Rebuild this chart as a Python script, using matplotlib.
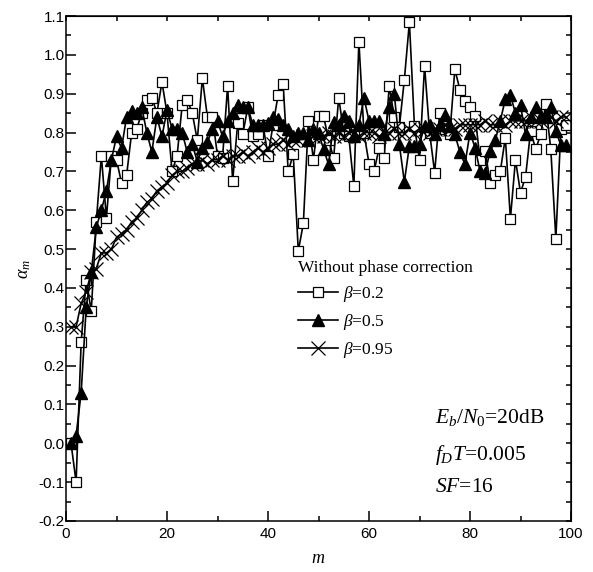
import numpy as np
import matplotlib
matplotlib.use("Agg")
from matplotlib import pyplot as plt
from matplotlib.ticker import MultipleLocator

plt.rcParams["mathtext.fontset"] = "custom"
plt.rcParams["mathtext.rm"] = "Liberation Serif"
plt.rcParams["mathtext.it"] = "Liberation Serif:italic"

# symbol index m
m = np.arange(1, 100)

# beta = 0.2 (open squares)
alpha_b02 = [
    0.00, -0.10, 0.26, 0.42, 0.34, 0.57, 0.74, 0.58, 0.74, 0.73,
    0.67, 0.69, 0.80, 0.81, 0.85, 0.885, 0.89, 0.85, 0.93, 0.85,
    0.70, 0.74, 0.87, 0.885, 0.85, 0.78, 0.94, 0.84, 0.84, 0.74,
    0.735, 0.92, 0.675, 0.825, 0.795, 0.865, 0.79, 0.795, 0.82, 0.74,
    0.82, 0.896, 0.925, 0.70, 0.744, 0.495, 0.566, 0.83, 0.73, 0.843,
    0.843, 0.78, 0.735, 0.89, 0.80, 0.79, 0.662, 1.034, 0.80, 0.72,
    0.70, 0.76, 0.735, 0.92, 0.84, 0.813, 0.936, 1.084, 0.817, 0.729,
    0.972, 0.80, 0.697, 0.85, 0.81, 0.795, 0.963, 0.91, 0.88, 0.865,
    0.843, 0.73, 0.753, 0.67, 0.69, 0.70, 0.787, 0.578, 0.73, 0.645,
    0.686, 0.804, 0.757, 0.795, 0.873, 0.757, 0.527, 0.81, 0.82,
]

# beta = 0.5 (filled triangles)
alpha_b05 = [
    0.00, 0.02, 0.13, 0.35, 0.44, 0.556, 0.60, 0.65, 0.73, 0.79,
    0.76, 0.84, 0.855, 0.85, 0.865, 0.80, 0.75, 0.84, 0.79, 0.857,
    0.81, 0.81, 0.80, 0.75, 0.77, 0.725, 0.76, 0.775, 0.81, 0.83,
    0.79, 0.83, 0.85, 0.87, 0.865, 0.865, 0.82, 0.82, 0.82, 0.825,
    0.84, 0.835, 0.82, 0.81, 0.79, 0.80, 0.80, 0.78, 0.81, 0.80,
    0.757, 0.718, 0.826, 0.82, 0.842, 0.83, 0.79, 0.82, 0.89, 0.83,
    0.83, 0.83, 0.795, 0.865, 0.90, 0.77, 0.673, 0.766, 0.766, 0.77,
    0.817, 0.82, 0.795, 0.82, 0.846, 0.817, 0.795, 0.75, 0.718, 0.80,
    0.761, 0.70, 0.697, 0.753, 0.78, 0.83, 0.886, 0.896, 0.85, 0.87,
    0.795, 0.84, 0.867, 0.843, 0.84, 0.867, 0.804, 0.767, 0.767,
]

# beta = 0.95 (crosses)
alpha_b095 = [
    0.30, 0.30, 0.36, 0.39, 0.44, 0.45, 0.49, 0.49, 0.50, 0.53,
    0.54, 0.55, 0.57, 0.58, 0.60, 0.62, 0.63, 0.65, 0.66, 0.67,
    0.69, 0.70, 0.70, 0.71, 0.72, 0.72, 0.73, 0.72, 0.73, 0.73,
    0.74, 0.73, 0.74, 0.74, 0.75, 0.74, 0.75, 0.76, 0.75, 0.76,
    0.77, 0.77, 0.78, 0.77, 0.78, 0.78, 0.79, 0.78, 0.79, 0.79,
    0.79, 0.80, 0.79, 0.80, 0.79, 0.80, 0.80, 0.79, 0.80, 0.80,
    0.80, 0.79, 0.80, 0.80, 0.81, 0.80, 0.80, 0.81, 0.80, 0.81,
    0.81, 0.80, 0.81, 0.81, 0.82, 0.81, 0.81, 0.82, 0.82, 0.82,
    0.82, 0.82, 0.83, 0.82, 0.82, 0.83, 0.82, 0.83, 0.83, 0.83,
    0.83, 0.84, 0.83, 0.83, 0.84, 0.84, 0.83, 0.84, 0.84,
]

labels = [r"$\beta$=0.2", r"$\beta$=0.5", r"$\beta$=0.95"]

fig = plt.figure(figsize=(5.93, 5.72), dpi=100)
ax = fig.add_axes([66 / 593, 1 - 521 / 572, 505 / 593, 505 / 572])

ax.plot(m, alpha_b02, "-s", color="black", lw=1.2, markersize=7.5,
        mfc="white", mec="black", mew=0.9, label=labels[0])
ax.plot(m, alpha_b05, "-^", color="black", lw=1.2, markersize=8,
        mfc="black", mec="black", label=labels[1])
ax.plot(m, alpha_b095, "-x", color="black", lw=1.2, markersize=10,
        mec="black", mew=0.9, label=labels[2])

ax.set_xlim(0, 100)
ax.set_ylim(-0.2, 1.1)
ax.xaxis.set_major_locator(MultipleLocator(20))
ax.xaxis.set_minor_locator(MultipleLocator(10))
ax.yaxis.set_major_locator(MultipleLocator(0.1))
ax.yaxis.set_minor_locator(MultipleLocator(0.05))
ax.yaxis.set_major_formatter(matplotlib.ticker.FormatStrFormatter("%.1f"))
ax.tick_params(which="both", direction="in", width=1.1)
ax.tick_params(which="major", length=7)
ax.tick_params(which="minor", length=3.6)
ax.tick_params(axis="y", pad=1)
ax.tick_params(axis="x", pad=4)
for t in ax.get_xticklabels() + ax.get_yticklabels():
    t.set_fontfamily("Liberation Sans")
    t.set_fontsize(11)
for s in ax.spines.values():
    s.set_linewidth(1.1)

# short ticks along top and right spines
top = ax.secondary_xaxis("top")
top.set_xticks(np.arange(0, 101, 10))
top.tick_params(direction="in", length=3.6, width=1.1, labeltop=False)
right = ax.secondary_yaxis("right")
right.set_yticks(np.arange(-0.2, 1.11, 0.05))
right.tick_params(direction="in", length=3.6, width=1.1, labelright=False)

ax.set_xlabel(r"$m$", fontsize=13, labelpad=6)
ax.set_ylabel(r"$\alpha_m$", fontsize=13, labelpad=4)

leg = ax.legend(title="Without phase correction", frameon=False,
                loc="upper left", bbox_to_anchor=(0.445, 0.53),
                prop={"family": "Liberation Serif", "size": 12.5},
                handlelength=2.3, handletextpad=0.3, labelspacing=0.45,
                borderaxespad=0, alignment="left")
leg.get_title().set_fontfamily("Liberation Serif")
leg.get_title().set_fontsize(12.5)

txt = dict(fontfamily="Liberation Serif", fontsize=15.5, transform=ax.transAxes,
           ha="left", va="center")
ax.text(0.73, 0.205, r"$E_b/N_{\mathrm{0}}$=20dB", **txt)
ax.text(0.73, 0.130, r"$f_DT$=0.005", **txt)
ax.text(0.73, 0.066, r"$SF$=16", **txt)

fig.savefig("out.png", dpi=100)
